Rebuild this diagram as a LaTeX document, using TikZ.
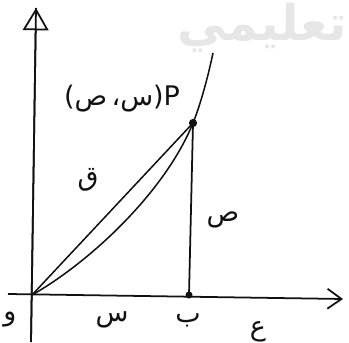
\documentclass[tikz,border=0pt]{standalone}
\usepackage{fontspec}
\usepackage{xcolor}
\usepackage{tikz}
\usetikzlibrary{arrows.meta}
\TeXXeTstate=1
\newfontfamily\arabicfont[Script=Arabic]{DejaVu Sans}
\newfontfamily\latinfont{DejaVu Sans}
\definecolor{kink}{HTML}{111111}
\definecolor{kmark}{HTML}{E6E6E6}
\tikzset{
  axisline/.style={draw=kink, line width=1.5pt},
  graphline/.style={draw=kink, line width=1.3pt},
  arlabel/.style={font=\arabicfont\fontsize{23}{26}\selectfont, text=kink, inner sep=0pt},
}
% point label set piece by piece, left to right as printed
\newcommand{\ptlabel}{\hbox{\latinfont(}\hbox{\arabicfont ص}\hbox{\latinfont\,}\hbox{\arabicfont ،}\hbox{\arabicfont س}\hbox{\latinfont)}\hbox{\latinfont P}}

\begin{document}
\begin{tikzpicture}[x=0.03cm, y=0.03cm]
  \useasboundingbox (0,0) rectangle (349,342);

  %% watermark
  \node[font=\arabicfont\bfseries\fontsize{42}{44}\selectfont, text=kmark] (mark) at (262,314) {\beginR تعليمي\endR};

  %% Layout (px, y up): O at (32,47), B at (189,47), P at (193,219)
  \coordinate (O) at (32,47);
  \coordinate (B) at (189,47);
  \coordinate (P) at (193,219);
  \coordinate (T) at (213,289);
  \coordinate (ytop) at (36,334);
  \coordinate (ybot) at (31,0);
  \coordinate (xleft) at (8,48);
  \coordinate (xright) at (343,43);

  %% axes
  \draw[axisline] (ybot) -- (ytop);
  \draw[axisline, -{Triangle[open, length=19pt, width=22pt, line width=1.5pt]}] (ybot) -- (ytop);
  \draw[axisline, -{Straight Barb[length=12pt, width=17pt, line width=1.5pt]}] (xleft) -- (xright);

  %% chord, curve and ordinate
  \draw[graphline] (O) -- (P);
  \draw[graphline] (O) .. controls (90,80) and (165,150) .. (P)
                       .. controls (200,236) and (208,265) .. (T);
  \draw[axisline] (B) -- (P);
  \fill[kink] (P) circle (3.5pt);
  \fill[kink] (B) circle (3pt);

  %% labels
  \node[arlabel] (Plabel) at (122,243) {\ptlabel};
  \node[arlabel] (qlabel) at (88,162) {ق};
  \node[arlabel] (ylabel) at (223,122) {ص};
  \node[arlabel] (olabel) at (10,22) {و};
  \node[arlabel] (xlabel) at (112,22) {س};
  \node[arlabel] (blabel) at (188,22) {ب};
  \node[arlabel] (elabel) at (258,10) {ع};

\end{tikzpicture}
\end{document}
